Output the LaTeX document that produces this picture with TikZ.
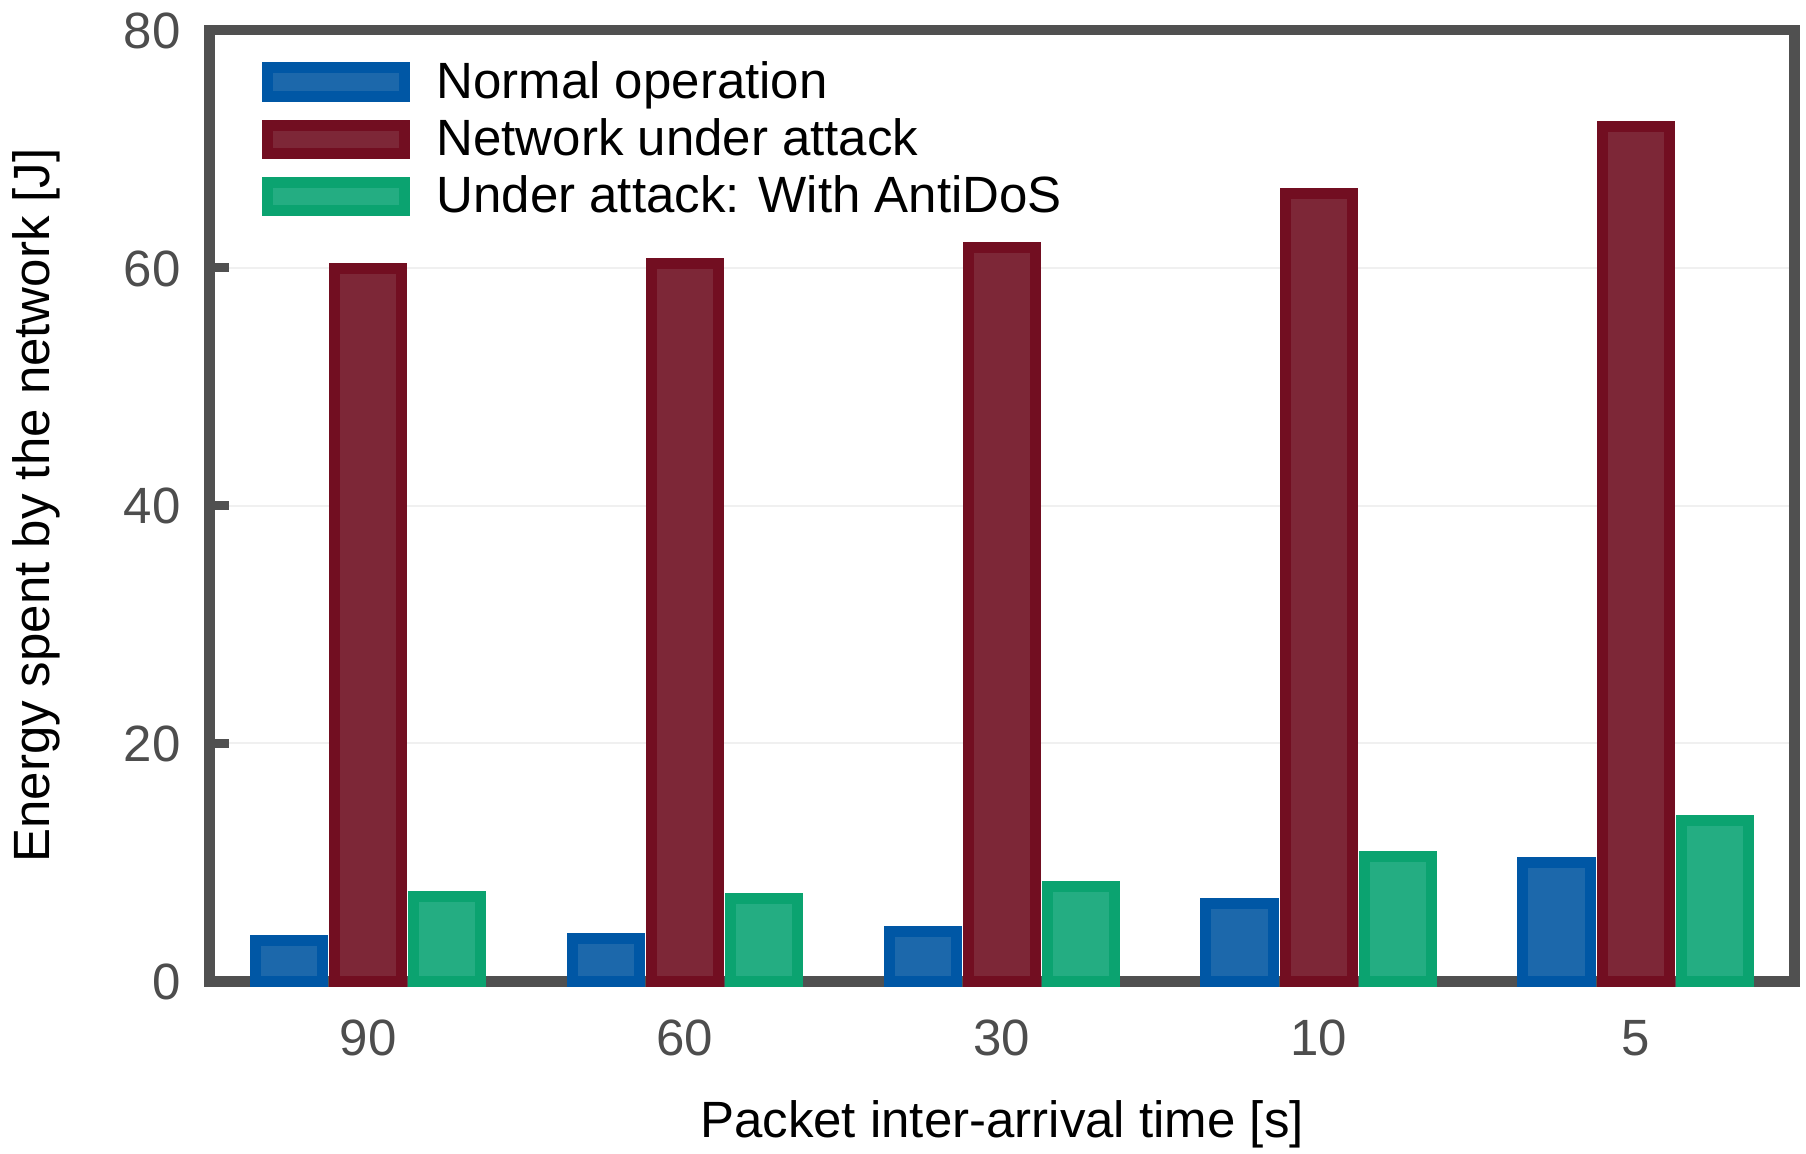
\documentclass[tikz,border=0pt]{standalone}
\usepackage{fontspec}
\setmainfont{Liberation Sans}
\definecolor{framec}{HTML}{505050}
\definecolor{bluestroke}{HTML}{0057A5}
\definecolor{bluefill}{HTML}{1C68AB}
\definecolor{redstroke}{HTML}{720E21}
\definecolor{redfill}{HTML}{7D2737}
\definecolor{greenstroke}{HTML}{0BA370}
\definecolor{greenfill}{HTML}{24AD82}
\definecolor{gridc}{HTML}{F0F0F0}
\definecolor{ticklab}{HTML}{4D4D4D}
\begin{document}
\begin{tikzpicture}[x=0.4pt,y=-0.4pt,
  barbox/.style={line width=4.4pt, line join=miter},
  bluebar/.style={barbox, draw=bluestroke, fill=bluefill},
  redbar/.style={barbox, draw=redstroke, fill=redfill},
  greenbar/.style={barbox, draw=greenstroke, fill=greenfill},
  txt/.style={font=\fontsize{20.4pt}{24pt}\selectfont, inner sep=0pt},
  ticklabel/.style={txt, text=ticklab},
  gridline/.style={draw=gridc, line width=0.8pt},
  framebox/.style={draw=framec, line width=4.3pt, line join=miter},
  tickmark/.style={draw=framec, line width=3.8pt}
]
\fill[white] (0,0) rectangle (1806,1153);
\useasboundingbox (0,0) rectangle (1806,1153);

% grid lines
\foreach \v in {20,40,60} {
  \draw[gridline] (215,{981.3-11.893*\v}) -- (1789,{981.3-11.893*\v});
}

% frame
\draw[framebox] (209.7,30) rectangle (1794.3,981.3);

% y ticks and labels
\foreach \v in {0,20,40,60,80} {
  \draw[tickmark] (209.7,{981.3-11.893*\v}) -- (229,{981.3-11.893*\v});
  \node[ticklabel, anchor=base east] (yl\v) at (181,{981.3-11.893*\v+18.3}) {\v};
}

% bars
\foreach \k/\a/\b/\c/\lab in {0/3.43/59.96/7.13/90, 1/3.62/60.33/6.99/60, 2/4.21/61.7/7.95/30, 3/6.57/66.2/10.47/10, 4/10.0/71.9/13.52/5} {
  \pgfmathsetmacro\cx{368.1+316.9*\k}
  \draw[bluebar] ({\cx-79.2-33.65},981.3) rectangle ({\cx-79.2+33.65},{981.3-11.893*\a});
  \draw[redbar] ({\cx-33.65},981.3) rectangle ({\cx+33.65},{981.3-11.893*\b});
  \draw[greenbar] ({\cx+79.2-33.65},981.3) rectangle ({\cx+79.2+33.65},{981.3-11.893*\c});
  \node[ticklabel, anchor=base] (xl\k) at (\cx,1055) {\lab};
}

% legend
\draw[bluebar] (267.2,67.8) rectangle (404.2,96.2);
\draw[redbar] (267.2,125.1) rectangle (404.2,153.5);
\draw[greenbar] (267.2,182.4) rectangle (404.2,210.8);
\node[txt, anchor=base west] (leg1) at (436,98.3) {Normal operation};
\node[txt, anchor=base west] (leg2) at (436,155.6) {Network under attack};
\node[txt, anchor=base west] (leg3) at (436,212.9) {Under attack: With AntiDoS};

% axis labels
\node[txt, anchor=base] (xlabel) at (1002,1137) {Packet inter-arrival time [s]};
\node[txt, anchor=base, rotate=90] (ylabel) at (49,505.5) {Energy spent by the network [J]};
\end{tikzpicture}
\end{document}
